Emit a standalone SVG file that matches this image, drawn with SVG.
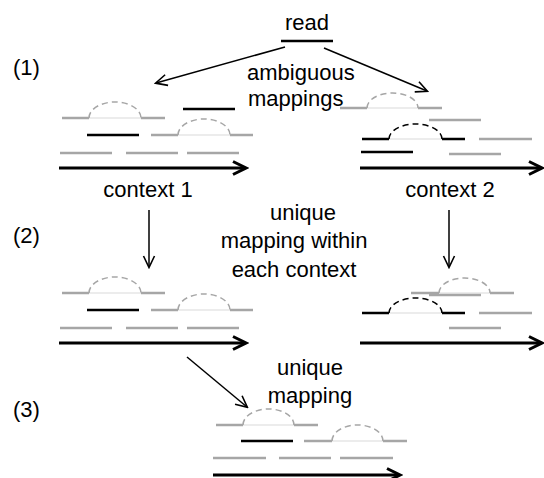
<svg xmlns="http://www.w3.org/2000/svg" width="544" height="478" viewBox="0 0 544 478">
<defs>
<style>
.t{font-family:"Liberation Sans",Arial,sans-serif;font-size:22px;fill:#000}
.g{stroke:#a6a6a6;stroke-width:2.3;fill:none}
.b{stroke:#000;stroke-width:2.5;fill:none}
.l{stroke:#d9d9d9;stroke-width:1;fill:none}
.gd{stroke:#a6a6a6;stroke-width:1.5;fill:none;stroke-dasharray:6 4}
.bd{stroke:#000;stroke-width:1.5;fill:none;stroke-dasharray:6 4}
.ax{stroke:#000;stroke-width:3;fill:none}
.c{stroke:#000;stroke-width:1.5;fill:none}
</style>
<marker id="ah" markerUnits="userSpaceOnUse" markerWidth="18" markerHeight="16" viewBox="0 0 18 16" refX="14" refY="8" orient="auto">
<path d="M2,1.5 L15,8 L2,14.5" stroke="#000" stroke-width="3" fill="none"/>
</marker>
<marker id="ch" markerUnits="userSpaceOnUse" markerWidth="14" markerHeight="14" viewBox="0 0 14 14" refX="12" refY="7" orient="auto">
<path d="M1,1.5 L12.5,7 L1,12.5" stroke="#000" stroke-width="1.6" fill="none"/>
</marker>
</defs>

<g id="labels">
<text class="t" x="13" y="75">(1)</text>
<text class="t" x="13" y="243">(2)</text>
<text class="t" x="13" y="417">(3)</text>
</g>

<g id="read">
<text class="t" x="307" y="30" text-anchor="middle">read</text>
<line class="b" x1="281" y1="41" x2="333" y2="41"/>
</g>

<g id="label-ambiguous">
<text class="t" x="247" y="80">ambiguous</text>
<text class="t" x="248" y="106">mappings</text>
</g>

<g id="context1">
<path class="g" d="M62,118 H89 M141,118 H165"/>
<line class="l" x1="89" y1="118" x2="141" y2="118"/>
<path class="gd" d="M89,118 A26,16 0 0 1 141,118"/>
<line class="b" x1="183" y1="109" x2="235" y2="109"/>
<line class="b" x1="87" y1="135" x2="139" y2="135"/>
<path class="g" d="M151,135 H178 M230,135 H253"/>
<line class="l" x1="178" y1="135" x2="230" y2="135"/>
<path class="gd" d="M178,135 A26,16 0 0 1 230,135"/>
<path class="g" d="M60,153 H112 M126,153 H178 M187,153 H239"/>
<line class="ax" x1="59" y1="168" x2="245" y2="168" marker-end="url(#ah)"/>
<text class="t" x="148" y="197" text-anchor="middle">context 1</text>
</g>

<g id="context2">
<path class="g" d="M340,108 H367 M418,108 H442"/>
<line class="l" x1="367" y1="108" x2="418" y2="108"/>
<path class="gd" d="M367,108 A25.5,15 0 0 1 418,108"/>
<line class="g" x1="429" y1="120" x2="481" y2="120"/>
<path class="b" d="M362,139 H389 M442,139 H465"/>
<line class="l" x1="389" y1="139" x2="442" y2="139"/>
<path class="bd" d="M389,139 A26.5,15 0 0 1 442,139"/>
<line class="g" x1="479" y1="139" x2="532" y2="139"/>
<line class="b" x1="361" y1="152" x2="413" y2="152"/>
<line class="g" x1="449" y1="154" x2="501" y2="154"/>
<line class="ax" x1="360" y1="168" x2="541" y2="168" marker-end="url(#ah)"/>
<text class="t" x="450" y="197" text-anchor="middle">context 2</text>
</g>

<g id="label-unique-within">
<text class="t" x="303" y="220" text-anchor="middle">unique</text>
<text class="t" x="294" y="248" text-anchor="middle">mapping within</text>
<text class="t" x="294" y="277" text-anchor="middle">each context</text>
</g>

<g id="context1-unique">
<path class="g" d="M62,293 H89 M141,293 H165"/>
<line class="l" x1="89" y1="293" x2="141" y2="293"/>
<path class="gd" d="M89,293 A26,16 0 0 1 141,293"/>
<line class="b" x1="87" y1="310" x2="139" y2="310"/>
<path class="g" d="M151,310 H178 M230,310 H253"/>
<line class="l" x1="178" y1="310" x2="230" y2="310"/>
<path class="gd" d="M178,310 A26,16 0 0 1 230,310"/>
<path class="g" d="M60,328 H112 M126,328 H178 M187,328 H239"/>
<line class="ax" x1="59" y1="343" x2="245" y2="343" marker-end="url(#ah)"/>
</g>

<g id="context2-unique">
<path class="g" d="M411,293 H439 M490,293 H514"/>
<line class="l" x1="439" y1="293" x2="490" y2="293"/>
<path class="gd" d="M439,293 A25.5,15 0 0 1 490,293"/>
<line class="g" x1="429" y1="295" x2="481" y2="295"/>
<path class="b" d="M362,313 H389 M442,313 H465"/>
<line class="l" x1="389" y1="313" x2="442" y2="313"/>
<path class="bd" d="M389,313 A26.5,15 0 0 1 442,313"/>
<line class="g" x1="479" y1="313" x2="532" y2="313"/>
<line class="g" x1="449" y1="328" x2="501" y2="328"/>
<line class="ax" x1="360" y1="343" x2="541" y2="343" marker-end="url(#ah)"/>
</g>

<g id="label-unique">
<text class="t" x="310" y="375" text-anchor="middle">unique</text>
<text class="t" x="310" y="403" text-anchor="middle">mapping</text>
</g>

<g id="final">
<path class="g" d="M216,425 H243 M294,425 H318"/>
<line class="l" x1="243" y1="425" x2="294" y2="425"/>
<path class="gd" d="M243,425 A25.5,16 0 0 1 294,425"/>
<line class="b" x1="241" y1="441" x2="293" y2="441"/>
<path class="g" d="M304,441 H332 M383,441 H407"/>
<line class="l" x1="332" y1="441" x2="383" y2="441"/>
<path class="gd" d="M332,441 A25.5,16 0 0 1 383,441"/>
<path class="g" d="M213,458 H266 M279,458 H331 M340,458 H393"/>
<line class="ax" x1="213" y1="475" x2="399" y2="475" marker-end="url(#ah)"/>
</g>

<g id="connectors">
<line class="c" x1="285" y1="47" x2="156" y2="83" marker-end="url(#ch)"/>
<line class="c" x1="324" y1="48" x2="427" y2="91" marker-end="url(#ch)"/>
<line class="c" x1="149" y1="210" x2="149" y2="267" marker-end="url(#ch)"/>
<line class="c" x1="449" y1="210" x2="449" y2="267" marker-end="url(#ch)"/>
<line class="c" x1="187" y1="357" x2="247" y2="407" marker-end="url(#ch)"/>
</g>
</svg>
